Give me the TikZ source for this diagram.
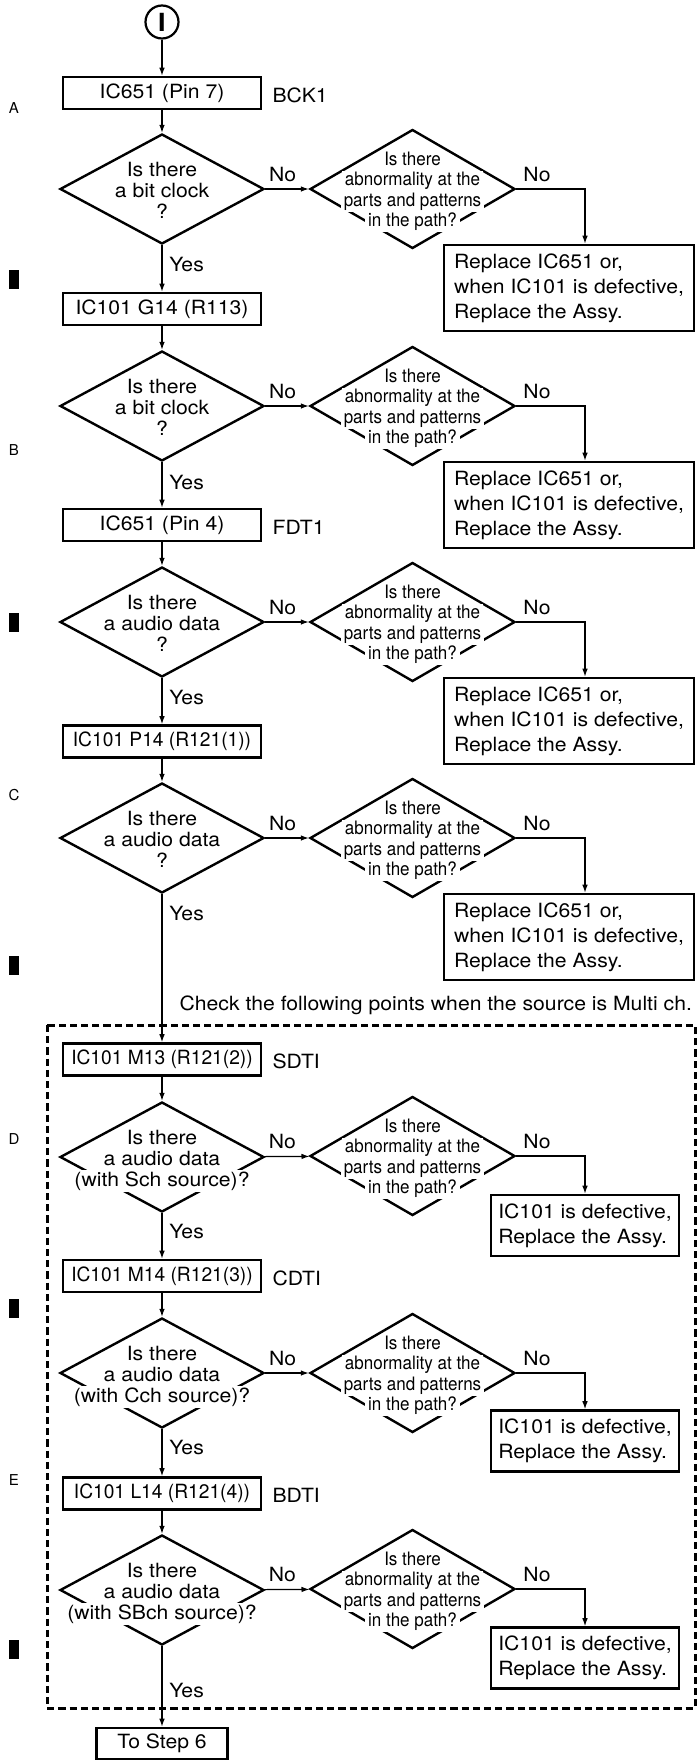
\documentclass[tikz,border=0pt]{standalone}
\usepackage{fontspec}
\setmainfont[FakeStretch=1.08]{TeX Gyre Heros}
\newfontfamily\tightfont[FakeStretch=0.98]{TeX Gyre Heros}
\newfontfamily\narrowfont[FakeStretch=0.92]{TeX Gyre Heros}
\newfontfamily\plainfont{TeX Gyre Heros}
\usetikzlibrary{shapes.geometric,arrows.meta}

\newcommand{\mainsz}{\fontsize{9.8}{12.5}\selectfont}
\tikzset{
  probe/.style={draw, line width=1.3pt, minimum width=99pt, minimum height=16pt, inner sep=0pt},
  fixit/.style={draw, line width=1.3pt, align=left, inner sep=0pt,
                minimum width=125pt, minimum height=43pt},
  fixic/.style={fixit, minimum width=94pt, minimum height=30.5pt},
  decide/.style={draw, diamond, line width=1.2pt, minimum width=102pt,
                 minimum height=55pt, inner sep=0pt},
  abn/.style={decide, minimum width=102.5pt, minimum height=59.5pt},
  qline/.style={fill=white, anchor=base, inner xsep=1.5pt, inner ysep=0.8pt,
                text height=7.3pt, text depth=2.1pt},
  aline/.style={qline, text height=6.8pt, text depth=2pt,
                font=\narrowfont\fontsize{9.25}{10.4}\selectfont},
  side/.style={anchor=west, inner sep=0pt},
  margin/.style={font=\plainfont\fontsize{7.5}{9}\selectfont}
}
% question lines of a decision (white behind each line)
\newcommand{\qlines}[4]{%
  \node[qline] (#1q1) at ([yshift=6.15pt]#1.center) {#2};
  \node[qline] (#1q2) at ([yshift=-4pt]#1.center) {#3};
  \node[qline] (#1q3) at ([yshift=-14.5pt]#1.center) {#4};}
\newcommand{\abnlines}[1]{%
  \node[aline] (#1a1) at ([yshift=12pt]#1.center) {Is there};
  \node[aline] (#1a2) at ([yshift=1.65pt]#1.center) {abnormality at the};
  \node[aline] (#1a3) at ([yshift=-8.5pt]#1.center) {parts and patterns};
  \node[aline] (#1a4) at ([yshift=-18.85pt]#1.center) {in the path?};}

\begin{document}
\begin{tikzpicture}[>={Latex[length=4pt,width=2.8pt]}, x=0.5pt, y=-0.5pt,
    line width=0.6pt, font=\mainsz]
  \useasboundingbox (0,0) rectangle (697,1762);
  \node[draw, circle, line width=1.1pt, minimum size=16.5pt, inner sep=0pt,
        font=\bfseries\fontsize{12.5}{12.5}\selectfont] (start) at (162,22) {I};
  %% margin marks
  \node[margin] (mA) at (14,108) {A};
  \node[margin] (mB) at (14,450) {B};
  \node[margin] (mC) at (14,795) {C};
  \node[margin] (mD) at (14,1139) {D};
  \node[margin] (mE) at (14,1480) {E};
  \fill (9,270) rectangle (19,289);
  \fill (9,613) rectangle (19,632);
  \fill (9,956) rectangle (19,975);
  \fill (9,1299) rectangle (19,1318);
  \fill (9,1640) rectangle (19,1659);
  %% row A
  \node[probe] (bA) at (162,93) {IC651 (Pin 7)};
  \node[side] (sA) at (272,95) {BCK1};
  \node[decide] (dA) at (162,189) {};
  \qlines{dA}{Is there}{a bit clock}{?}
  \node[abn] (pA) at (412.5,189) {};
  \abnlines{pA}
  \node[fixit] (rA) at (569,288) {Replace IC651 or,\\when IC101 is defective,\\Replace the Assy.};
  %% row B
  \node[probe] (bB) at (162,309) {IC101 G14 (R113)};
  \node[decide] (dB) at (162,406) {};
  \qlines{dB}{Is there}{a bit clock}{?}
  \node[abn] (pB) at (412.5,406) {};
  \abnlines{pB}
  \node[fixit] (rB) at (569,505) {Replace IC651 or,\\when IC101 is defective,\\Replace the Assy.};
  %% row C
  \node[probe] (bC) at (162,525) {IC651 (Pin 4)};
  \node[side] (sC) at (272,527) {FDT1};
  \node[decide] (dC) at (162,622) {};
  \qlines{dC}{Is there}{a audio data}{?}
  \node[abn] (pC) at (412.5,622) {};
  \abnlines{pC}
  \node[fixit] (rC) at (569,721) {Replace IC651 or,\\when IC101 is defective,\\Replace the Assy.};
  %% row D
  \node[probe, font=\tightfont\mainsz] (bD) at (162,741.5) {IC101 P14 (R121(1))};
  \node[decide] (dD) at (162,838) {};
  \qlines{dD}{Is there}{a audio data}{?}
  \node[abn] (pD) at (412.5,838) {};
  \abnlines{pD}
  \node[fixit] (rD) at (569,937) {Replace IC651 or,\\when IC101 is defective,\\Replace the Assy.};
  %% multi ch. frame
  \node[side] (multi) at (179,1005) {Check the following points when the source is Multi ch.};
  \draw[line width=1.5pt, dash pattern=on 3.6pt off 2pt] (47,1025) rectangle (695,1708);
  %% row E
  \node[probe, font=\tightfont\mainsz] (bE) at (162,1059.5) {IC101 M13 (R121(2))};
  \node[side] (sE) at (272,1061) {SDTI};
  \node[decide] (dE) at (162,1157) {};
  \qlines{dE}{Is there}{a audio data}{(with Sch source)?}
  \node[abn] (pE) at (412.5,1156) {};
  \abnlines{pE}
  \node[fixic] (rE) at (585,1225.5) {IC101 is defective,\\Replace the Assy.};
  %% row F
  \node[probe, font=\tightfont\mainsz] (bF) at (162,1276) {IC101 M14 (R121(3))};
  \node[side] (sF) at (272,1278) {CDTI};
  \node[decide] (dF) at (162,1373) {};
  \qlines{dF}{Is there}{a audio data}{(with Cch source)?}
  \node[abn] (pF) at (412.5,1373) {};
  \abnlines{pF}
  \node[fixic] (rF) at (585,1441) {IC101 is defective,\\Replace the Assy.};
  %% row G
  \node[probe, font=\tightfont\mainsz] (bG) at (162,1493.5) {IC101 L14 (R121(4))};
  \node[side] (sG) at (272,1495) {BDTI};
  \node[decide] (dG) at (162,1590) {};
  \qlines{dG}{Is there}{a audio data}{(with SBch source)?}
  \node[abn] (pG) at (412.5,1589) {};
  \abnlines{pG}
  \node[fixic] (rG) at (585,1658) {IC101 is defective,\\Replace the Assy.};
  \node[probe, minimum width=65.5pt, minimum height=15.5pt] (stepsix) at (162,1743.5) {To Step 6};
  %% connectors
  \draw[->] (start) -- (bA);
  \draw[->] (bA) -- (dA);
  \draw[->] (dA) -- node[above, pos=0.4] {No} (pA);
  \draw[->] (pA.east) -| node[above right, pos=0] {No} ([xshift=8pt]rA.north);
  \draw[->] (dA) -- node[right, pos=0.41] {Yes} (bB);
  \draw[->] (bB) -- (dB);
  \draw[->] (dB) -- node[above, pos=0.4] {No} (pB);
  \draw[->] (pB.east) -| node[above right, pos=0] {No} ([xshift=8pt]rB.north);
  \draw[->] (dB) -- node[right, pos=0.44] {Yes} (bC);
  \draw[->] (bC) -- (dC);
  \draw[->] (dC) -- node[above, pos=0.4] {No} (pC);
  \draw[->] (pC.east) -| node[above right, pos=0] {No} ([xshift=8pt]rC.north);
  \draw[->] (dC) -- node[right, pos=0.41] {Yes} (bD);
  \draw[->] (bD) -- (dD);
  \draw[->] (dD) -- node[above, pos=0.4] {No} (pD);
  \draw[->] (pD.east) -| node[above right, pos=0] {No} ([xshift=8pt]rD.north);
  \draw[->] (dD) -- node[right, pos=0.13] {Yes} (bE);
  \draw[->] (bE) -- (dE);
  \draw[->] (dE) -- node[above, pos=0.4] {No} (pE);
  \draw[->] (pE.east) -| node[above right, pos=0] {No} (rE.north);
  \draw[->] (dE) -- node[right, pos=0.4] {Yes} (bF);
  \draw[->] (bF) -- (dF);
  \draw[->] (dF) -- node[above, pos=0.4] {No} (pF);
  \draw[->] (pF.east) -| node[above right, pos=0] {No} (rF.north);
  \draw[->] (dF) -- node[right, pos=0.38] {Yes} (bG);
  \draw[->] (bG) -- (dG);
  \draw[->] (dG) -- node[above, pos=0.4] {No} (pG);
  \draw[->] (pG.east) -| node[above right, pos=0] {No} (rG.north);
  \draw[->] (dG) -- node[right, pos=0.55] {Yes} (stepsix);
\end{tikzpicture}
\end{document}
